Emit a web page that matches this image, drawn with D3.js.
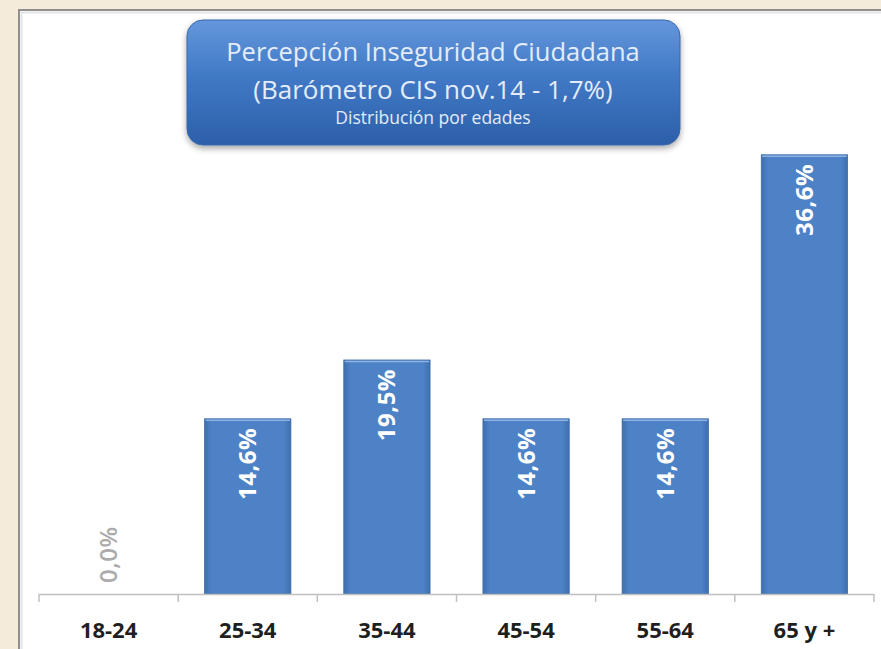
<!DOCTYPE html>
<html>
<head>
<meta charset="utf-8">
<script src="https://cdn.jsdelivr.net/npm/d3@7"></script>
<style>
  html, body { margin: 0; padding: 0; background: #f4ebda; }
  svg { display: block; }
</style>
</head>
<body>
<svg id="chart" width="881" height="649"></svg>
<script>
// data
const categories = ["18-24", "25-34", "35-44", "45-54", "55-64", "65 y +"];
const values = [0.0, 14.6, 19.5, 14.6, 14.6, 36.6];
const titleLines = ["Percepción Inseguridad Ciudadana", "(Barómetro CIS nov.14 - 1,7%)", "Distribución por edades"];

let svg = d3.select("#chart");
let width = parseInt(svg.attr("width"));
let height = parseInt(svg.attr("height"));

let defs = svg.append("defs");

let boxGrad = defs.append("linearGradient")
    .attr("id", "boxGrad")
    .attr("x1", 0).attr("y1", 0).attr("x2", 0).attr("y2", 1);
boxGrad.append("stop").attr("offset", "0%").attr("stop-color", "#6497dc");
boxGrad.append("stop").attr("offset", "45%").attr("stop-color", "#4179c6");
boxGrad.append("stop").attr("offset", "100%").attr("stop-color", "#2c5fa9");

let barGrad = defs.append("linearGradient")
    .attr("id", "barGrad")
    .attr("x1", 0).attr("y1", 0).attr("x2", 1).attr("y2", 0);
barGrad.append("stop").attr("offset", "0%").attr("stop-color", "#3f6fae");
barGrad.append("stop").attr("offset", "8%").attr("stop-color", "#4d82c6");
barGrad.append("stop").attr("offset", "92%").attr("stop-color", "#4d82c6");
barGrad.append("stop").attr("offset", "100%").attr("stop-color", "#3f6fae");

let shadow = defs.append("filter").attr("id", "shadow")
    .attr("x", "-10%").attr("y", "-10%").attr("width", "120%").attr("height", "130%");
shadow.append("feDropShadow")
    .attr("dx", 0).attr("dy", 3).attr("stdDeviation", 3)
    .attr("flood-color", "#000").attr("flood-opacity", 0.35);

// white panel with grey border on the left and top
svg.append("rect")
    .attr("x", 18).attr("y", 9)
    .attr("width", width - 18).attr("height", height - 9)
    .style("fill", "#ffffff");
svg.append("path")
    .attr("d", `M19,${height} V10 H${width}`)
    .style("fill", "none")
    .style("stroke", "#8f8f8f")
    .style("stroke-width", 2);
svg.append("path")
    .attr("d", `M21.5,${height} V12.5 H${width}`)
    .style("fill", "none")
    .style("stroke", "#e4e4e4")
    .style("stroke-width", 2);

let baseY = 594;

let xScale = d3.scaleBand()
    .domain(categories)
    .range([39, 874])
    .paddingInner(0.38)
    .paddingOuter(0.19);

let yScale = d3.scaleLinear()
    .domain([0, 40])
    .range([baseY, baseY - 480]);

// bars
let bars = svg.selectAll(".bars")
    .data(categories.map((c, i) => ({ cat: c, value: values[i] })))
    .enter()
    .append("g")
    .attr("class", "bars");

bars.filter(d => d.value > 0)
    .append("rect")
    .attr("x", d => xScale(d.cat))
    .attr("y", d => yScale(d.value))
    .attr("width", xScale.bandwidth())
    .attr("height", d => yScale(0) - yScale(d.value))
    .style("fill", "url(#barGrad)")
    .style("stroke", "#3d6aa5")
    .style("stroke-width", 0.8);

bars.filter(d => d.value > 0)
    .append("line")
    .attr("x1", d => xScale(d.cat) + 1)
    .attr("x2", d => xScale(d.cat) + xScale.bandwidth() - 1)
    .attr("y1", d => yScale(d.value) + 1.5)
    .attr("y2", d => yScale(d.value) + 1.5)
    .style("stroke", "#8fb3e3")
    .style("stroke-width", 1.5);

// value labels, rotated
bars.append("text")
    .attr("transform", d => {
        let cx = xScale(d.cat) + xScale.bandwidth() / 2;
        return `translate(${cx + 8.5}, ${d.value > 0 ? yScale(d.value) + 9 : baseY - 11}) rotate(-90)`;
    })
    .attr("text-anchor", d => d.value > 0 ? "end" : "start")
    .style("font-family", "'Open Sans', sans-serif")
    .style("font-size", "24px")
    .style("font-weight", d => d.value > 0 ? "bold" : "600")
    .style("letter-spacing", "0.5px")
    .style("fill", d => d.value > 0 ? "#ffffff" : "#ababab")
    .text(d => d.value.toFixed(1).replace(".", ",") + "%");

// x axis
let xAxis = svg.append("g").attr("class", "x-axis");
xAxis.append("line")
    .attr("x1", 39).attr("x2", 874)
    .attr("y1", baseY + 0.5).attr("y2", baseY + 0.5)
    .style("stroke", "#c0c0c0").style("stroke-width", 1.5);

let step = xScale.step();
let tickXs = categories.map(c => xScale(c) - step * xScale.paddingInner() / 2);
tickXs.push(xScale(categories[categories.length - 1]) + xScale.bandwidth() + step * xScale.paddingInner() / 2);
xAxis.selectAll(".tick")
    .data(tickXs)
    .enter()
    .append("line")
    .attr("class", "tick")
    .attr("x1", d => d).attr("x2", d => d)
    .attr("y1", baseY).attr("y2", baseY + 8)
    .style("stroke", "#c0c0c0").style("stroke-width", 1.5);

xAxis.selectAll(".cat-label")
    .data(categories)
    .enter()
    .append("text")
    .attr("class", "cat-label")
    .attr("x", d => xScale(d) + xScale.bandwidth() / 2)
    .attr("y", 638)
    .attr("text-anchor", "middle")
    .style("font-family", "'Open Sans', sans-serif")
    .style("font-size", "22px")
    .style("font-weight", "bold")
    .style("fill", "#1f1f1f")
    .text(d => d);

// title box
let titleG = svg.append("g").attr("class", "chart-title");
titleG.append("rect")
    .attr("x", 187).attr("y", 20)
    .attr("width", 493).attr("height", 125)
    .attr("rx", 16).attr("ry", 16)
    .style("fill", "url(#boxGrad)")
    .style("stroke", "#3867ad")
    .style("stroke-width", 1)
    .attr("filter", "url(#shadow)");

let titleSizes = [25.5, 26, 17.5];
let titleYs = [61, 99, 124];
titleG.selectAll("text")
    .data(titleLines)
    .enter()
    .append("text")
    .attr("x", 433)
    .attr("y", (d, i) => titleYs[i])
    .attr("text-anchor", "middle")
    .style("font-family", "'Open Sans', sans-serif")
    .style("font-size", (d, i) => titleSizes[i] + "px")
    .style("fill", "#e3ecf8")
    .text(d => d);
</script>
</body>
</html>
